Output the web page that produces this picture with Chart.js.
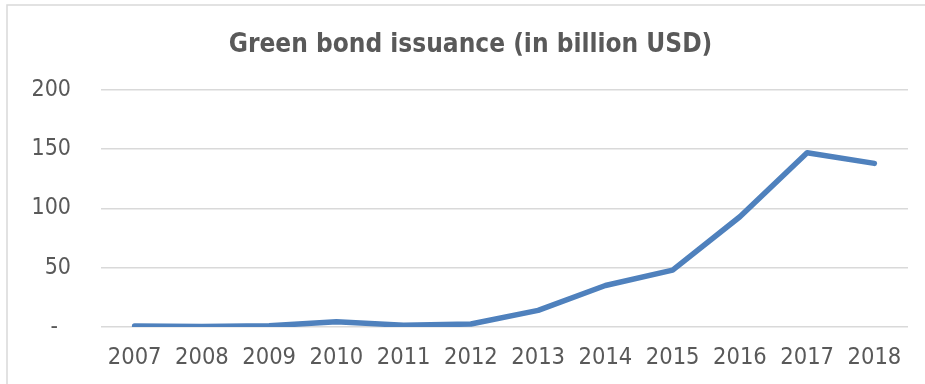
<!DOCTYPE html>
<html>
<head>
<meta charset="utf-8">
<script src="https://cdn.jsdelivr.net/npm/chart.js@4/dist/chart.umd.min.js"></script>
<style>
  html, body { margin: 0; padding: 0; background: #fff; overflow: hidden; }
  canvas { display: block; }
</style>
</head>
<body>
<canvas id="myChart" width="925" height="384"></canvas>
<script>
// chart data
const years = ["2007", "2008", "2009", "2010", "2011", "2012", "2013", "2014", "2015", "2016", "2017", "2018"];
const issuance = [0.8, 0.5, 1, 4.5, 1.5, 2.5, 14, 35, 48, 93, 147, 138];
const yTicks = [0, 50, 100, 150, 200];
const chartTitle = "Green bond issuance (in billion USD)";

const gray = "#595959";
const fontName = "'DejaVu Sans Condensed', 'DejaVu Sans', sans-serif";

// light frame round the chart, like the Excel chart area
const framePlugin = {
    id: "frame",
    beforeDraw(chart) {
        const ctx = chart.ctx;
        ctx.save();
        ctx.fillStyle = "#fff";
        ctx.fillRect(0, 0, chart.width, chart.height);
        ctx.strokeStyle = "#d9d9d9";
        ctx.lineWidth = 1.5;
        ctx.beginPath();
        ctx.moveTo(7, chart.height);
        ctx.lineTo(7, 5);
        ctx.lineTo(chart.width, 5);
        ctx.stroke();
        ctx.restore();
    }
};

let myChart = new Chart(document.getElementById("myChart"), {
    type: "line",
    data: {
        labels: years,
        datasets: [{
            data: issuance,
            borderColor: "#4f81bd",
            backgroundColor: "#4f81bd",
            borderWidth: 5.5,
            pointRadius: 0,
            borderCapStyle: "round",
            borderJoinStyle: "round",
            tension: 0
        }]
    },
    options: {
        responsive: false,
        animation: false,
        layout: { padding: { top: 30, right: 17, bottom: 0, left: 33 } },
        plugins: {
            legend: { display: false },
            tooltip: { enabled: false },
            title: {
                display: true,
                text: chartTitle,
                color: gray,
                font: { family: fontName, size: 26, weight: "bold", lineHeight: 1.15 },
                padding: { top: 0, bottom: 30 }
            }
        },
        scales: {
            x: {
                offset: true,
                afterFit(scale) {
                    scale.height = 57;
                },
                grid: { display: false, drawTicks: false },
                border: { display: false },
                ticks: {
                    color: gray,
                    font: { family: fontName, size: 23.5 },
                    padding: 17,
                    maxRotation: 0,
                    autoSkip: false
                }
            },
            y: {
                min: 0,
                max: 200,
                afterBuildTicks(scale) {
                    scale.ticks = yTicks.map(v => ({ value: v }));
                },
                afterFit(scale) {
                    scale.width = 68;
                },
                grid: { color: "#d9d9d9", lineWidth: 1.5, drawTicks: false },
                border: { display: false },
                ticks: {
                    color: gray,
                    font: { family: fontName, size: 23 },
                    padding: 30,
                    callback: v => (v === 0 ? "-  " : String(v))
                }
            }
        }
    },
    plugins: [framePlugin]
});
</script>
</body>
</html>
